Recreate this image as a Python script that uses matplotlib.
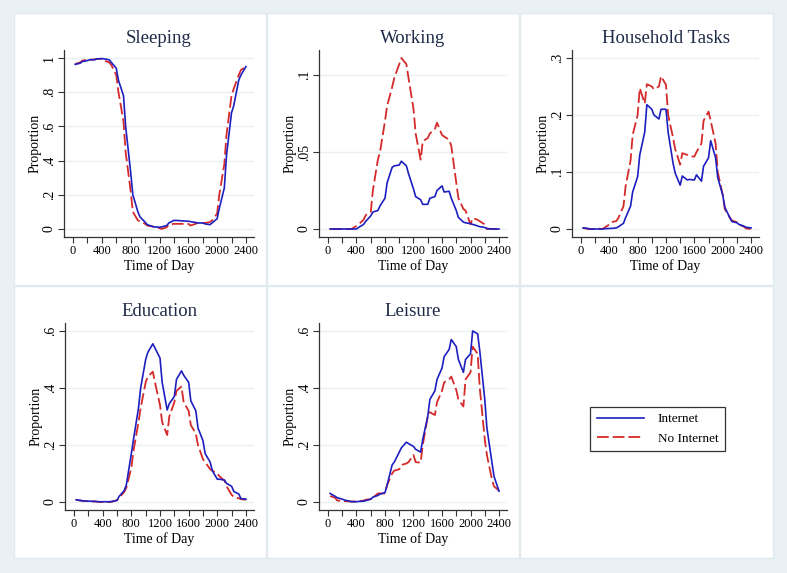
import matplotlib
matplotlib.use('Agg')
import matplotlib.pyplot as plt
from matplotlib.patches import Rectangle
from matplotlib.lines import Line2D

# time of day, hhmm half-hour slots
time_of_day = [30, 100, 130, 200, 230, 300, 330, 400, 430, 500, 530, 600,
               630, 700, 730, 800, 830, 900, 930, 1000, 1030, 1100, 1130, 1200,
               1230, 1300, 1330, 1400, 1430, 1500, 1530, 1600, 1630, 1700, 1730, 1800,
               1830, 1900, 1930, 2000, 2030, 2100, 2130, 2200, 2230, 2300, 2330, 2400]

sleeping_net = [0.963, 0.97, 0.98, 0.985, 0.99, 0.99, 0.995, 0.997, 0.995, 0.99, 0.975, 0.94,
                0.87, 0.78, 0.6, 0.33, 0.2, 0.1, 0.07, 0.04, 0.025, 0.015, 0.012, 0.01,
                0.012, 0.02, 0.035, 0.05, 0.05, 0.048, 0.047, 0.045, 0.043, 0.038, 0.035, 0.035,
                0.03, 0.025, 0.035, 0.06, 0.12, 0.24, 0.43, 0.68, 0.72, 0.87, 0.9, 0.95]
sleeping_nonet = [0.965, 0.975, 0.985, 0.99, 0.99, 0.992, 0.995, 0.995, 0.985, 0.975, 0.96, 0.9,
                  0.8, 0.63, 0.45, 0.22, 0.1, 0.05, 0.045, 0.03, 0.02, 0.015, 0.01, 0.005,
                  0.0, 0.01, 0.025, 0.03, 0.03, 0.03, 0.03, 0.03, 0.02, 0.03, 0.035, 0.035,
                  0.035, 0.04, 0.05, 0.09, 0.2, 0.38, 0.55, 0.78, 0.82, 0.9, 0.93, 0.95]

working_net = [0, 0, 0, 0, 0, 0, 0, 0, 0.001, 0.003, 0.005, 0.0085,
               0.011, 0.012, 0.015, 0.02, 0.03, 0.04, 0.041, 0.0415, 0.044, 0.041, 0.036, 0.026,
               0.021, 0.019, 0.016, 0.016, 0.02, 0.021, 0.025, 0.028, 0.024, 0.0245, 0.02, 0.012,
               0.0075, 0.0045, 0.004, 0.0035, 0.003, 0.002, 0.0015, 0.001, 0.0003, 0, 0, 0]
working_nonet = [0, 0, 0, 0, 0, 0, 0, 0.002, 0.003, 0.006, 0.009, 0.011,
                 0.025, 0.045, 0.05, 0.07, 0.08, 0.092, 0.098, 0.107, 0.111, 0.107, 0.098, 0.078,
                 0.062, 0.045, 0.057, 0.059, 0.062, 0.065, 0.069, 0.061, 0.06, 0.058, 0.054, 0.03,
                 0.02, 0.013, 0.012, 0.003, 0.007, 0.006, 0.005, 0.003, 0, 0, 0, 0]

household_net = [0.002, 0.001, 0, 0, 0, 0, 0.0005, 0.001, 0.001, 0.002, 0.004, 0.01,
                 0.02, 0.04, 0.065, 0.092, 0.13, 0.17, 0.218, 0.21, 0.2, 0.193, 0.21, 0.21,
                 0.17, 0.115, 0.098, 0.077, 0.093, 0.086, 0.087, 0.086, 0.095, 0.084, 0.11, 0.125,
                 0.155, 0.125, 0.09, 0.06, 0.038, 0.02, 0.013, 0.011, 0.008, 0.005, 0.003, 0.002]
household_nonet = [0.002, 0, 0, 0, 0.001, 0, 0.002, 0.008, 0.012, 0.014, 0.02, 0.04,
                   0.075, 0.12, 0.165, 0.2, 0.247, 0.22, 0.254, 0.25, 0.245, 0.25, 0.268, 0.253,
                   0.2, 0.16, 0.14, 0.113, 0.133, 0.13, 0.128, 0.127, 0.135, 0.15, 0.19, 0.206,
                   0.19, 0.15, 0.1, 0.06, 0.035, 0.02, 0.015, 0.012, 0.008, 0.004, 0.001, 0]

education_net = [0.008, 0.005, 0.004, 0.003, 0.003, 0.002, 0.001, 0.001, 0.001, 0.001, 0.002, 0.006,
                 0.02, 0.04, 0.06, 0.17, 0.22, 0.33, 0.4, 0.5, 0.525, 0.555, 0.54, 0.505,
                 0.42, 0.323, 0.345, 0.37, 0.43, 0.46, 0.445, 0.42, 0.355, 0.32, 0.26, 0.215,
                 0.17, 0.14, 0.11, 0.08, 0.08, 0.077, 0.065, 0.055, 0.037, 0.028, 0.012, 0.01]
education_nonet = [0.007, 0.005, 0.003, 0.003, 0.002, 0.002, 0.001, 0, 0, 0, 0.001, 0.006,
                   0.015, 0.035, 0.05, 0.12, 0.18, 0.28, 0.33, 0.42, 0.44, 0.457, 0.42, 0.34,
                   0.28, 0.235, 0.3, 0.35, 0.39, 0.405, 0.35, 0.32, 0.27, 0.24, 0.2, 0.15,
                   0.14, 0.115, 0.11, 0.1, 0.09, 0.075, 0.055, 0.025, 0.018, 0.013, 0.01, 0.008]

leisure_net = [0.03, 0.02, 0.015, 0.01, 0.007, 0.003, 0.001, 0.001, 0.002, 0.003, 0.005, 0.01,
               0.017, 0.023, 0.028, 0.033, 0.06, 0.13, 0.14, 0.175, 0.19, 0.21, 0.205, 0.195,
               0.185, 0.175, 0.22, 0.3, 0.36, 0.39, 0.43, 0.47, 0.51, 0.535, 0.57, 0.545,
               0.5, 0.455, 0.5, 0.52, 0.6, 0.59, 0.53, 0.36, 0.26, 0.14, 0.09, 0.038]
leisure_nonet = [0.021, 0.015, 0.005, 0.004, 0.003, 0.002, 0.002, 0.002, 0.003, 0.005, 0.008, 0.01,
                 0.015, 0.03, 0.03, 0.03, 0.06, 0.1, 0.11, 0.115, 0.13, 0.135, 0.14, 0.165,
                 0.14, 0.138, 0.2, 0.3, 0.315, 0.305, 0.35, 0.39, 0.42, 0.43, 0.44, 0.393,
                 0.36, 0.335, 0.43, 0.455, 0.545, 0.52, 0.4, 0.22, 0.165, 0.08, 0.055, 0.04]

titles = ['Sleeping', 'Working', 'Household Tasks', 'Education', 'Leisure']
series = [(sleeping_net, sleeping_nonet), (working_net, working_nonet),
          (household_net, household_nonet), (education_net, education_nonet),
          (leisure_net, leisure_nonet)]
yticks = [[0, .2, .4, .6, .8, 1], [0, .05, .1], [0, .1, .2, .3],
          [0, .2, .4, .6], [0, .2, .4, .6]]
ylabels = [['0', '.2', '.4', '.6', '.8', '1'], ['0', '.05', '.1'], ['0', '.1', '.2', '.3'],
           ['0', '.2', '.4', '.6'], ['0', '.2', '.4', '.6']]
ylims = [(-0.047, 1.047), (-0.0052, 0.1162), (-0.014, 0.314), (-0.028, 0.628), (-0.028, 0.628)]
legend_labels = ['Internet', 'No Internet']

plt.rcParams['font.family'] = ['Liberation Serif', 'DejaVu Serif']
BLUE = '#1d1fc0'
RED = '#d42a2a'
BG = '#eaf1f4'
W, H = 787., 573.

fig = plt.figure(figsize=(7.87, 5.73), dpi=100, facecolor=BG)

# white panel boxes (pixels: left, top, right, bottom)
cols = [(14, 266), (267, 519), (520, 773)]
rows = [(13, 285), (286, 558)]
for r in rows:
    for c in cols:
        fig.patches.append(Rectangle((c[0] / W, 1 - r[1] / H), (c[1] - c[0]) / W, (r[1] - r[0]) / H,
                                     transform=fig.transFigure, facecolor='white',
                                     edgecolor='#e1eaee', lw=1.0, zorder=-5))

# axes boxes in pixels: left, right, top, bottom
boxes = [(64, 254, 50, 237), (319, 507, 50, 237), (572, 759, 50, 237),
         (65, 254, 323, 510), (319, 507, 323, 510)]

xt = list(range(0, 2401, 200))
xtl = [str(v) if v % 400 == 0 else '' for v in xt]

for i, (l, rgt, t, b) in enumerate(boxes):
    ax = fig.add_axes([l / W, 1 - b / H, (rgt - l) / W, (b - t) / H])
    ax.set_facecolor('white')
    net, nonet = series[i]
    ax.plot(time_of_day, nonet, color=RED, lw=1.3, dashes=(6.5, 2.2), zorder=3)
    ax.plot(time_of_day, net, color=BLUE, lw=1.2, zorder=4)
    ax.set_xlim(-126, 2512)
    ax.set_ylim(*ylims[i])
    ax.set_xticks(xt)
    ax.set_xticklabels(xtl, fontsize=9)
    ax.set_yticks(yticks[i])
    ax.set_yticklabels(ylabels[i], fontsize=10, rotation=90, va='center')
    for y in yticks[i]:
        ax.axhline(y, color='#eaf1f4', lw=1.0, zorder=1)
    ax.spines['top'].set_visible(False)
    ax.spines['right'].set_visible(False)
    for s in ['left', 'bottom']:
        ax.spines[s].set_color('#333333')
        ax.spines[s].set_linewidth(0.9)
    ax.tick_params(direction='out', length=4, width=0.8, color='#333333', pad=2)
    ax.set_xlabel('Time of Day', fontsize=10, labelpad=1)
    ax.set_ylabel('Proportion', fontsize=10, labelpad=1)
    ax.set_title(titles[i], fontsize=13.5, color='#1e2a48', pad=5)

handles = [Line2D([], [], color=BLUE, lw=1.2),
           Line2D([], [], color=RED, lw=1.3, dashes=(6.5, 2.2))]
leg = fig.legend(handles, legend_labels, loc='center', bbox_to_anchor=(657.5 / W, 1 - 429 / H),
                 fontsize=9.5, frameon=True, fancybox=False, handlelength=3.6,
                 handletextpad=1.0, borderpad=0.5, labelspacing=0.55)
leg.get_frame().set_edgecolor('black')
leg.get_frame().set_linewidth(0.9)

plt.savefig('out.png', dpi=100, facecolor=BG)
